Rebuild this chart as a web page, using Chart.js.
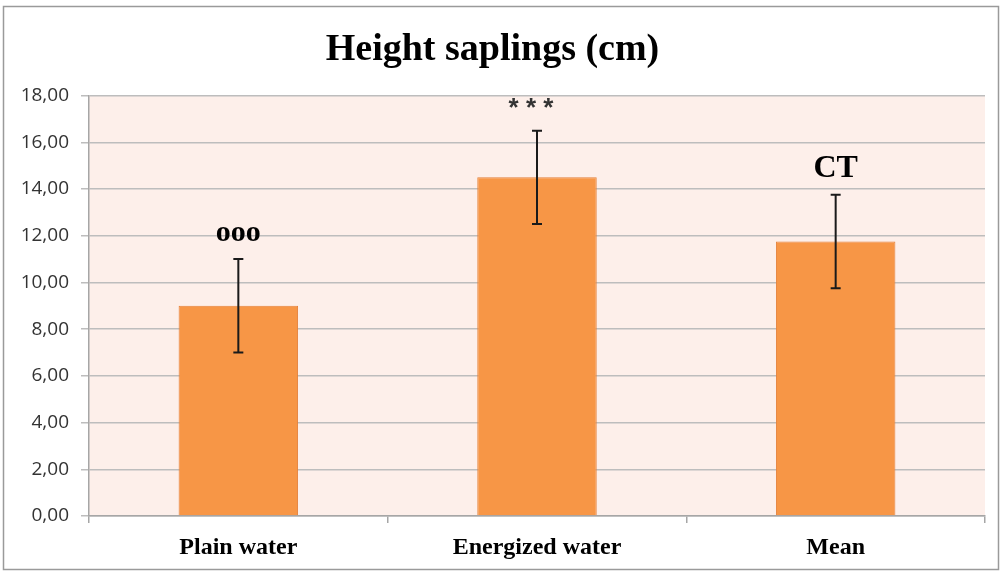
<!DOCTYPE html>
<html>
<head>
<meta charset="utf-8">
<script src="https://cdn.jsdelivr.net/npm/chart.js@4.4.0/dist/chart.umd.min.js"></script>
<style>
  body { margin: 0; background: #fff; }
</style>
</head>
<body>
<canvas id="grafico" width="1002" height="573"></canvas>
<script>
const categorias = ['Plain water', 'Energized water', 'Mean'];
const alturas = [9.0, 14.5, 11.75];
const errores = [2.0, 2.0, 2.0];
const marcas = ['ooo', '* * *', 'CT'];

// fondo rosado del area del grafico + borde exterior
const fondoPlugin = {
  id: 'fondo',
  beforeDraw(chart) {
    const { ctx, chartArea: a } = chart;
    ctx.save();
    ctx.fillStyle = '#fdefea';
    ctx.fillRect(a.left, a.top, a.right - a.left, a.bottom - a.top);
    ctx.strokeStyle = '#9a9a9a';
    ctx.lineWidth = 1.5;
    ctx.strokeRect(3.5, 6.5, 995, 563);
    ctx.restore();
  }
};

// barras de error y marcas de significancia
const erroresPlugin = {
  id: 'errores',
  afterDatasetsDraw(chart) {
    const { ctx } = chart;
    const y = chart.scales.y;
    const meta = chart.getDatasetMeta(0);
    ctx.save();
    meta.data.forEach((bar, i) => {
      const x = bar.x;
      const arriba = y.getPixelForValue(alturas[i] + errores[i]);
      const abajo = y.getPixelForValue(alturas[i] - errores[i]);
      ctx.strokeStyle = '#1a1a1a';
      ctx.lineWidth = 2;
      ctx.beginPath();
      ctx.moveTo(x, arriba); ctx.lineTo(x, abajo);
      ctx.moveTo(x - 5, arriba); ctx.lineTo(x + 5, arriba);
      ctx.moveTo(x - 5, abajo); ctx.lineTo(x + 5, abajo);
      ctx.stroke();

      ctx.textAlign = 'center';
      ctx.textBaseline = 'alphabetic';
      if (marcas[i].includes('*')) {
        ctx.fillStyle = '#333';
        ctx.font = 'bold 26px "Liberation Sans"';
        ctx.fillText(marcas[i], x - 6, arriba - 15);
      } else {
        ctx.fillStyle = '#000';
        ctx.font = marcas[i] === 'CT' ? 'bold 32px "Liberation Serif"' : 'bold 30px "Liberation Serif"';
        ctx.fillText(marcas[i], x, arriba - 18);
      }
    });
    ctx.restore();
  }
};

new Chart(document.getElementById('grafico'), {
  type: 'bar',
  data: {
    labels: categorias,
    datasets: [{
      data: alturas,
      backgroundColor: '#f79646',
      borderColor: '#e5803a',
      borderWidth: 1,
      barPercentage: 0.4,
      categoryPercentage: 1.0
    }]
  },
  options: {
    responsive: false,
    animation: false,
    layout: { padding: { left: 0, right: 17, top: 0, bottom: 0 } },
    plugins: {
      legend: { display: false },
      tooltip: { enabled: false },
      title: {
        display: true,
        text: 'Height saplings (cm)',
        color: '#000',
        font: { family: '"Liberation Serif"', size: 38, weight: 'bold' },
        padding: { top: 27, bottom: 23 }
      }
    },
    scales: {
      x: {
        afterFit(scale) { scale.height = 57; },
        grid: { drawOnChartArea: false, offset: true, tickLength: 7, color: '#a6a6a6', lineWidth: 1.5 },
        border: { color: '#a6a6a6', width: 1.5 },
        ticks: {
          color: '#000',
          padding: 10,
          font: { family: '"Liberation Serif"', size: 24, weight: 'bold' }
        }
      },
      y: {
        min: 0,
        max: 18,
        afterFit(scale) { scale.width = 89; },
        grid: { color: '#bdbdbd', lineWidth: 1.5, tickLength: 8 },
        border: { color: '#a6a6a6', width: 1.5 },
        ticks: {
          stepSize: 2,
          color: '#333',
          padding: 12,
          font: { family: '"Open Sans"', size: 19 },
          callback: v => v.toFixed(2).replace('.', ',')
        }
      }
    }
  },
  plugins: [fondoPlugin, erroresPlugin]
});
</script>
</body>
</html>
